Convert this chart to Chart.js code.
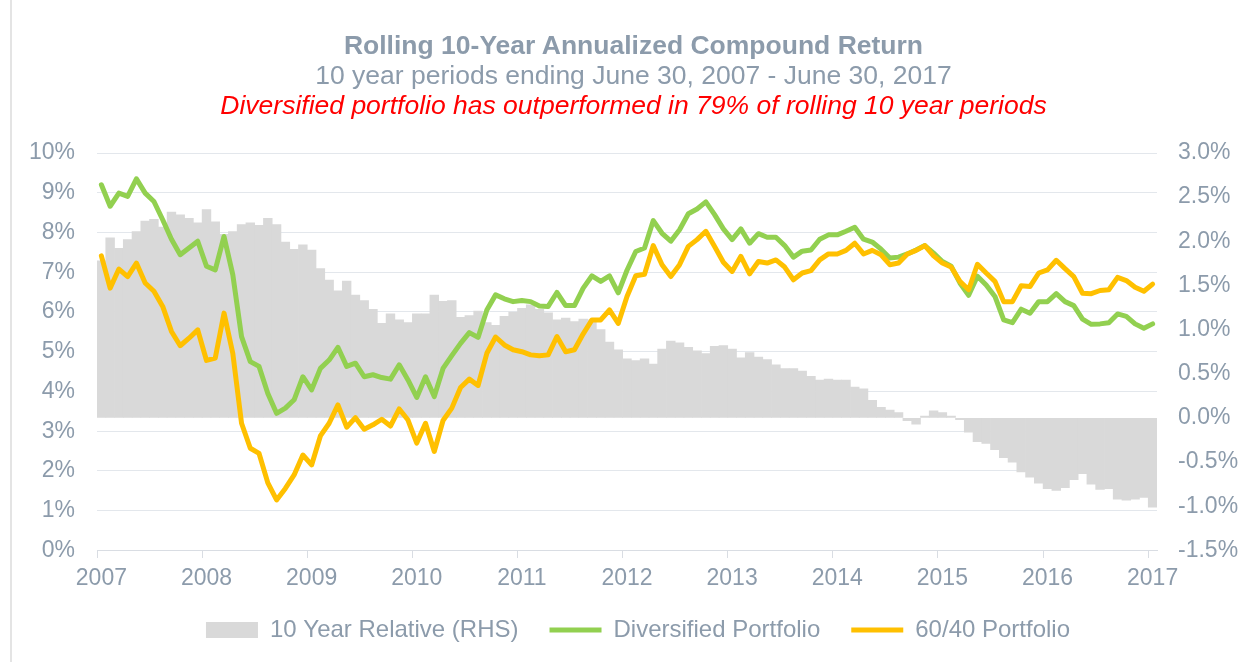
<!DOCTYPE html>
<html lang="en">
<head>
<meta charset="UTF-8">
<title>Rolling 10-Year Annualized Compound Return</title>
<script src="https://cdn.jsdelivr.net/npm/chart.js"></script>
<style>
  body { margin: 0; background: #fff; font-family: 'Liberation Sans', Arial, sans-serif; }
  #wrap { position: relative; width: 1251px; height: 662px; }
  #frame { position: absolute; left: 10px; top: 0; width: 2px; height: 662px; background: #e4e4e4; }
  #titles { position: absolute; left: 16px; top: 30px; width: 1235px; text-align: center; font-size: 26.5px; line-height: 30px; color: #8c9bab; }
  #titles .t1 { font-weight: bold; }
  #titles .t3 { color: #ff0000; font-style: italic; }
</style>
</head>
<body>
<div id="wrap">
  <div id="frame"></div>
  <canvas id="chart" width="1251" height="662"></canvas>
  <div id="titles">
    <div class="t1">Rolling 10-Year Annualized Compound Return</div>
    <div class="t2">10 year periods ending June 30, 2007 - June 30, 2017</div>
    <div class="t3">Diversified portfolio has outperformed in 79% of rolling 10 year periods</div>
  </div>
</div>

<script>
// year labels on the x axis, one every 12 months
const yearTicks = ['2007', '2008', '2009', '2010', '2011', '2012', '2013', '2014', '2015', '2016', '2017'];

// monthly periods ending Jun 2007 ... Jun 2017 (121 months)
const monthNames = ['Jan', 'Feb', 'Mar', 'Apr', 'May', 'Jun', 'Jul', 'Aug', 'Sep', 'Oct', 'Nov', 'Dec'];
const months = [];
for (let i = 0; i <= 120; i++) {
  const m = (5 + i) % 12;
  const y = 2007 + Math.floor((5 + i) / 12);
  months.push(monthNames[m] + ' ' + y);
}

// 10 year relative (RHS), %
const relative = [
  1.78, 2.04, 1.92, 2.02, 2.11, 2.23, 2.25, 2.16, 2.33, 2.30, 2.26, 2.21,
  2.36, 2.22, 2.08, 2.11, 2.19, 2.21, 2.18, 2.26, 2.19, 1.99, 1.91, 1.96,
  1.90, 1.69, 1.56, 1.44, 1.55, 1.39, 1.33, 1.23, 1.07, 1.18, 1.11, 1.08,
  1.18, 1.18, 1.39, 1.32, 1.33, 1.14, 1.16, 1.21, 1.08, 1.05, 1.15, 1.20,
  1.24, 1.28, 1.23, 1.19, 1.11, 1.13, 1.09, 1.12, 1.11, 1.00, 0.86, 0.77,
  0.67, 0.65, 0.67, 0.61, 0.78, 0.87, 0.85, 0.80, 0.76, 0.73, 0.81, 0.82,
  0.78, 0.68, 0.74, 0.69, 0.66, 0.60, 0.56, 0.56, 0.53, 0.47, 0.43, 0.44,
  0.43, 0.43, 0.35, 0.33, 0.20, 0.12, 0.09, 0.06, -0.03, -0.07, 0.02, 0.08,
  0.06, 0.02, -0.02, -0.16, -0.27, -0.29, -0.36, -0.45, -0.50, -0.61, -0.67, -0.74,
  -0.80, -0.82, -0.79, -0.70, -0.63, -0.75, -0.81, -0.80, -0.92, -0.93, -0.92, -0.90,
  -1.01
];

// Diversified portfolio, %
const diversified = [
  9.20, 8.66, 8.99, 8.91, 9.35, 8.99, 8.78, 8.32, 7.83, 7.44, 7.61, 7.78,
  7.15, 7.06, 7.90, 6.94, 5.38, 4.75, 4.63, 3.95, 3.45, 3.58, 3.79, 4.37,
  4.04, 4.58, 4.79, 5.11, 4.63, 4.71, 4.37, 4.42, 4.35, 4.31, 4.67, 4.29,
  3.85, 4.37, 3.87, 4.58, 4.90, 5.21, 5.48, 5.36, 6.05, 6.43, 6.33, 6.26,
  6.29, 6.26, 6.15, 6.14, 6.49, 6.16, 6.16, 6.60, 6.91, 6.77, 6.91, 6.48,
  7.05, 7.52, 7.61, 8.30, 7.98, 7.78, 8.07, 8.47, 8.59, 8.77, 8.45, 8.09,
  7.82, 8.09, 7.73, 7.97, 7.88, 7.88, 7.67, 7.38, 7.53, 7.56, 7.83, 7.94,
  7.94, 8.03, 8.13, 7.83, 7.76, 7.58, 7.36, 7.38, 7.46, 7.56, 7.67, 7.48,
  7.27, 7.15, 6.73, 6.42, 6.90, 6.68, 6.39, 5.80, 5.73, 6.07, 5.97, 6.26,
  6.26, 6.46, 6.26, 6.16, 5.82, 5.69, 5.70, 5.73, 5.95, 5.89, 5.70, 5.59,
  5.70
];

// 60/40 portfolio, %
const sixtyForty = [
  7.41, 6.60, 7.08, 6.89, 7.23, 6.73, 6.52, 6.14, 5.51, 5.15, 5.34, 5.55,
  4.78, 4.84, 5.97, 4.96, 3.20, 2.57, 2.44, 1.70, 1.27, 1.56, 1.90, 2.40,
  2.15, 2.88, 3.20, 3.66, 3.10, 3.34, 3.05, 3.16, 3.30, 3.13, 3.56, 3.28,
  2.70, 3.20, 2.49, 3.27, 3.58, 4.10, 4.31, 4.15, 4.96, 5.37, 5.17, 5.05,
  5.00, 4.92, 4.90, 4.92, 5.38, 5.00, 5.05, 5.45, 5.80, 5.80, 6.05, 5.71,
  6.39, 6.91, 6.95, 7.67, 7.19, 6.89, 7.19, 7.65, 7.82, 8.03, 7.65, 7.25,
  7.02, 7.40, 6.96, 7.27, 7.23, 7.31, 7.13, 6.81, 6.98, 7.04, 7.31, 7.46,
  7.46, 7.55, 7.73, 7.46, 7.55, 7.44, 7.19, 7.23, 7.46, 7.55, 7.67, 7.41,
  7.23, 7.13, 6.77, 6.56, 7.20, 6.98, 6.77, 6.26, 6.26, 6.66, 6.64, 6.98,
  7.06, 7.30, 7.09, 6.89, 6.47, 6.46, 6.54, 6.56, 6.87, 6.79, 6.62, 6.52,
  6.70
];

const textColor = '#8c9bab';
const gridColor = '#e3e7ec';
const fontFamily = "'Liberation Sans', Arial, sans-serif";

Chart.defaults.font.family = fontFamily;
Chart.defaults.font.size = 23;
Chart.defaults.color = textColor;

const ctx = document.getElementById('chart');

new Chart(ctx, {
  type: 'bar',
  data: {
    labels: months,
    datasets: [
      {
        label: '10 Year Relative (RHS)',
        data: relative,
        backgroundColor: '#d9d9d9',
        borderWidth: 0,
        barPercentage: 1,
        categoryPercentage: 1,
        yAxisID: 'y1',
        pointStyle: 'rect',
        order: 3
      },
      {
        type: 'line',
        label: 'Diversified Portfolio',
        data: diversified,
        borderColor: '#92d050',
        backgroundColor: '#92d050',
        borderWidth: 5,
        borderJoinStyle: 'round',
        borderCapStyle: 'round',
        pointRadius: 0,
        pointStyle: 'line',
        tension: 0,
        yAxisID: 'y',
        order: 2
      },
      {
        type: 'line',
        label: '60/40 Portfolio',
        data: sixtyForty,
        borderColor: '#ffc000',
        backgroundColor: '#ffc000',
        borderWidth: 5,
        borderJoinStyle: 'round',
        borderCapStyle: 'round',
        pointRadius: 0,
        pointStyle: 'line',
        tension: 0,
        yAxisID: 'y',
        order: 1
      }
    ]
  },
  options: {
    responsive: false,
    animation: false,
    layout: { padding: { top: 153, left: 28, right: 3, bottom: 10 } },
    plugins: {
      tooltip: { enabled: false },
      legend: {
        position: 'bottom',
        labels: {
          usePointStyle: true,
          pointStyleWidth: 52,
          boxHeight: 16,
          padding: 31,
          color: textColor,
          font: { size: 24 },
          sort: (a, b) => a.datasetIndex - b.datasetIndex
        }
      }
    },
    scales: {
      x: {
        type: 'category',
        offset: true,
        grid: {
          offset: true,
          drawOnChartArea: false,
          drawTicks: true,
          tickLength: 19,
          // short 7px tick mark, only at the start of each year
          tickBorderDash: [7, 40],
          color: (c) => (c.index % 12 === 0 ? '#d9dde3' : 'rgba(0,0,0,0)')
        },
        border: { display: true, color: '#d9dde3' },
        ticks: {
          autoSkip: false,
          maxRotation: 0,
          padding: -5,
          color: textColor,
          callback: (val, i) => (i % 12 === 0 ? yearTicks[i / 12] : '')
        }
      },
      y: {
        position: 'left',
        min: 0,
        max: 10,
        ticks: { stepSize: 1, padding: 22, color: textColor, callback: (v) => v + '%' },
        grid: { color: gridColor, drawTicks: false },
        border: { display: false },
        afterFit: (scale) => { scale.width = 69; }
      },
      y1: {
        position: 'right',
        min: -1.5,
        max: 3,
        ticks: { stepSize: 0.5, padding: 21, color: textColor, callback: (v) => v.toFixed(1) + '%' },
        grid: { drawOnChartArea: false, drawTicks: false },
        border: { display: false },
        afterFit: (scale) => { scale.width = 91; }
      }
    }
  }
});
</script>
</body>
</html>
